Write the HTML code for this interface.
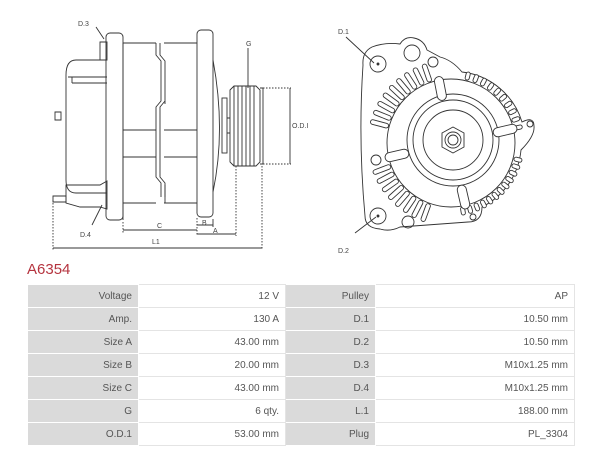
<!DOCTYPE html>
<html><head><style>
body{margin:0;width:600px;height:468px;background:#fff;overflow:hidden;font-family:"Liberation Sans",sans-serif;position:relative}
.t{position:absolute;left:27px;top:261px;color:#b5343f;font-size:15px}
table{position:absolute;left:27px;top:284px;width:548px;border-collapse:collapse;font-size:10px;color:#555}
td{height:22px;padding:0 6px;text-align:right;border:1px solid #e4e4e4}
td.l{background:#dadada;border:1px solid #fff}
</style></head><body>
<svg id="s" width="600" height="260" style="position:absolute;left:0;top:0" fill="none" stroke="#333" stroke-width="0.9">
<!-- side view -->
<path d="M100 42 h7 v18 h-7 z"/>
<path d="M107 60 H76 Q66 60 66 75 V180 Q66 193 76 193 H107"/>
<path d="M68 77 h39 M72 83 h35 M72 77 v6"/>
<path d="M55 112 h6 v8 h-6 z"/>
<path d="M66 185 h34 l7 -4 v28 l-7 -2 h-20 l-14 -4 z"/>
<path d="M53 196 h13 v6 h-13 z"/>
<rect x="106" y="33" width="17" height="187" rx="4"/>
<path d="M123 43 h33 M164 43 h33 M123 130 h33 M123 157 h33 M164 130 h33 M164 157 h33 M123 203 h33 M164 203 h33"/>
<path d="M123 43 V220 M156 43 v12 l5 6 v40 l-5 6 v70 l5 6 v14 M160 43 v12 l5 6 v40 l-5 6 v70 l5 6 v14 M164 43 v0"/>
<path d="M165 101 v3 M165 185 v18"/>
<rect x="197" y="30" width="16" height="187" rx="4"/>
<path d="M213 60 Q226 130 213 192"/>
<rect x="222" y="98" width="5" height="55"/>
<path d="M227 118 h3 M227 133 h3"/>
<path d="M230 90 l4 -4 h22 l4 4 v72 l-4 4 h-22 l-4 -4 z"/>
<path d="M234 86 v80 M238 86 v80 M242 86 v80 M246 86 v80 M250 86 v80 M254 86 v80"/>
<path d="M260 88 h3 v76 h-3"/>
<path d="M263 88 h28 M263 164 h28" stroke-dasharray="1.5 1.5"/>
<path d="M290 88 v76"/>
<path d="M53 200 v50 M262 166 v84 M236 166 v70 M123 222 v12 M197 218 v18" stroke-dasharray="1.5 1.5"/>
<path d="M53 248 h209 M123 230 h74 M197 234 h39 M197 225 h16 M213 219 v8"/>
<path d="M96 27 l8 12 M102 205 l-10 20 M248 48 v40 M346 37 l28 26 M355 233 l21 -16"/>
<g font-size="7" fill="#444" stroke="none" font-family="Liberation Sans">
<text x="78" y="26">D.3</text><text x="80" y="237">D.4</text><text x="246" y="46">G</text>
<text x="292" y="128">O.D.I</text><text x="157" y="228">C</text><text x="202" y="225">B</text>
<text x="213" y="233">A</text><text x="152" y="244">L1</text>
<text x="338" y="34">D.1</text><text x="338" y="253">D.2</text></g>
<!-- front view -->
<path d="M372 47 Q385 42 400 44 Q405 36 414 38 Q424 40 427 50 L440 57 Q452 60 462 72 A71 71 0 0 1 522 122 Q534 116 534 126 Q535 136 521 150 A71 71 0 0 1 482 207 Q482 222 468 222 L400 227 Q390 232 380 229 Q365 228 365 216 Q358 140 363 65 Q362 52 372 47 z"/>
<circle cx="378" cy="64" r="8"/><circle cx="378" cy="64" r="1" fill="#333"/>
<circle cx="378" cy="216" r="8"/><circle cx="378" cy="216" r="1" fill="#333"/>
<circle cx="412" cy="53" r="8"/><circle cx="433" cy="62" r="5"/><circle cx="376" cy="160" r="5"/>
<circle cx="408" cy="222" r="6"/><circle cx="530" cy="124" r="3"/><circle cx="473" cy="217" r="3"/>
<circle cx="451" cy="143" r="64"/><circle cx="453" cy="140" r="46"/><circle cx="453" cy="140" r="40"/><circle cx="453" cy="140" r="30"/>
<polygon points="453,127 464,133 464,147 453,153 442,147 442,133"/><circle cx="453" cy="140" r="8"/><circle cx="453" cy="140" r="5"/>
<g id="g"></g>
</svg>
<script>
var g=document.getElementById('g'),h='';
function bar(a,r1,r2,w){var c=Math.cos(a*Math.PI/180),s=Math.sin(a*Math.PI/180);
var x1=451+c*r1,y1=143+s*r1,x2=451+c*r2,y2=143+s*r2;
h+='<line x1="'+x1+'" y1="'+y1+'" x2="'+x2+'" y2="'+y2+'" stroke="#333" stroke-width="'+w+'" stroke-linecap="round"/>';
h+='<line x1="'+x1+'" y1="'+y1+'" x2="'+x2+'" y2="'+y2+'" stroke="#fff" stroke-width="'+(w-1.8)+'" stroke-linecap="round"/>';}
for(var a=195;a<=252;a+=7)bar(a,67,81,5.5);
for(var a=110;a<=160;a+=7)bar(a,67,81,5.5);
for(var a=-76;a<=-8;a+=7)bar(a,67,71,5);
for(var a=14;a<=80;a+=6)bar(a,67,71,5);
[-101,-13,77,167].forEach(function(a){bar(a,48,63,10)});
g.innerHTML=h;
</script>
<div class="t">A6354</div>
<table>
<tr><td class="l" style="width:98px">Voltage</td><td style="width:134px">12 V</td><td class="l" style="width:77px">Pulley</td><td>AP</td></tr>
<tr><td class="l">Amp.</td><td>130 A</td><td class="l">D.1</td><td>10.50 mm</td></tr>
<tr><td class="l">Size A</td><td>43.00 mm</td><td class="l">D.2</td><td>10.50 mm</td></tr>
<tr><td class="l">Size B</td><td>20.00 mm</td><td class="l">D.3</td><td>M10x1.25 mm</td></tr>
<tr><td class="l">Size C</td><td>43.00 mm</td><td class="l">D.4</td><td>M10x1.25 mm</td></tr>
<tr><td class="l">G</td><td>6 qty.</td><td class="l">L.1</td><td>188.00 mm</td></tr>
<tr><td class="l">O.D.1</td><td>53.00 mm</td><td class="l">Plug</td><td>PL_3304</td></tr>
</table>
</body></html>
